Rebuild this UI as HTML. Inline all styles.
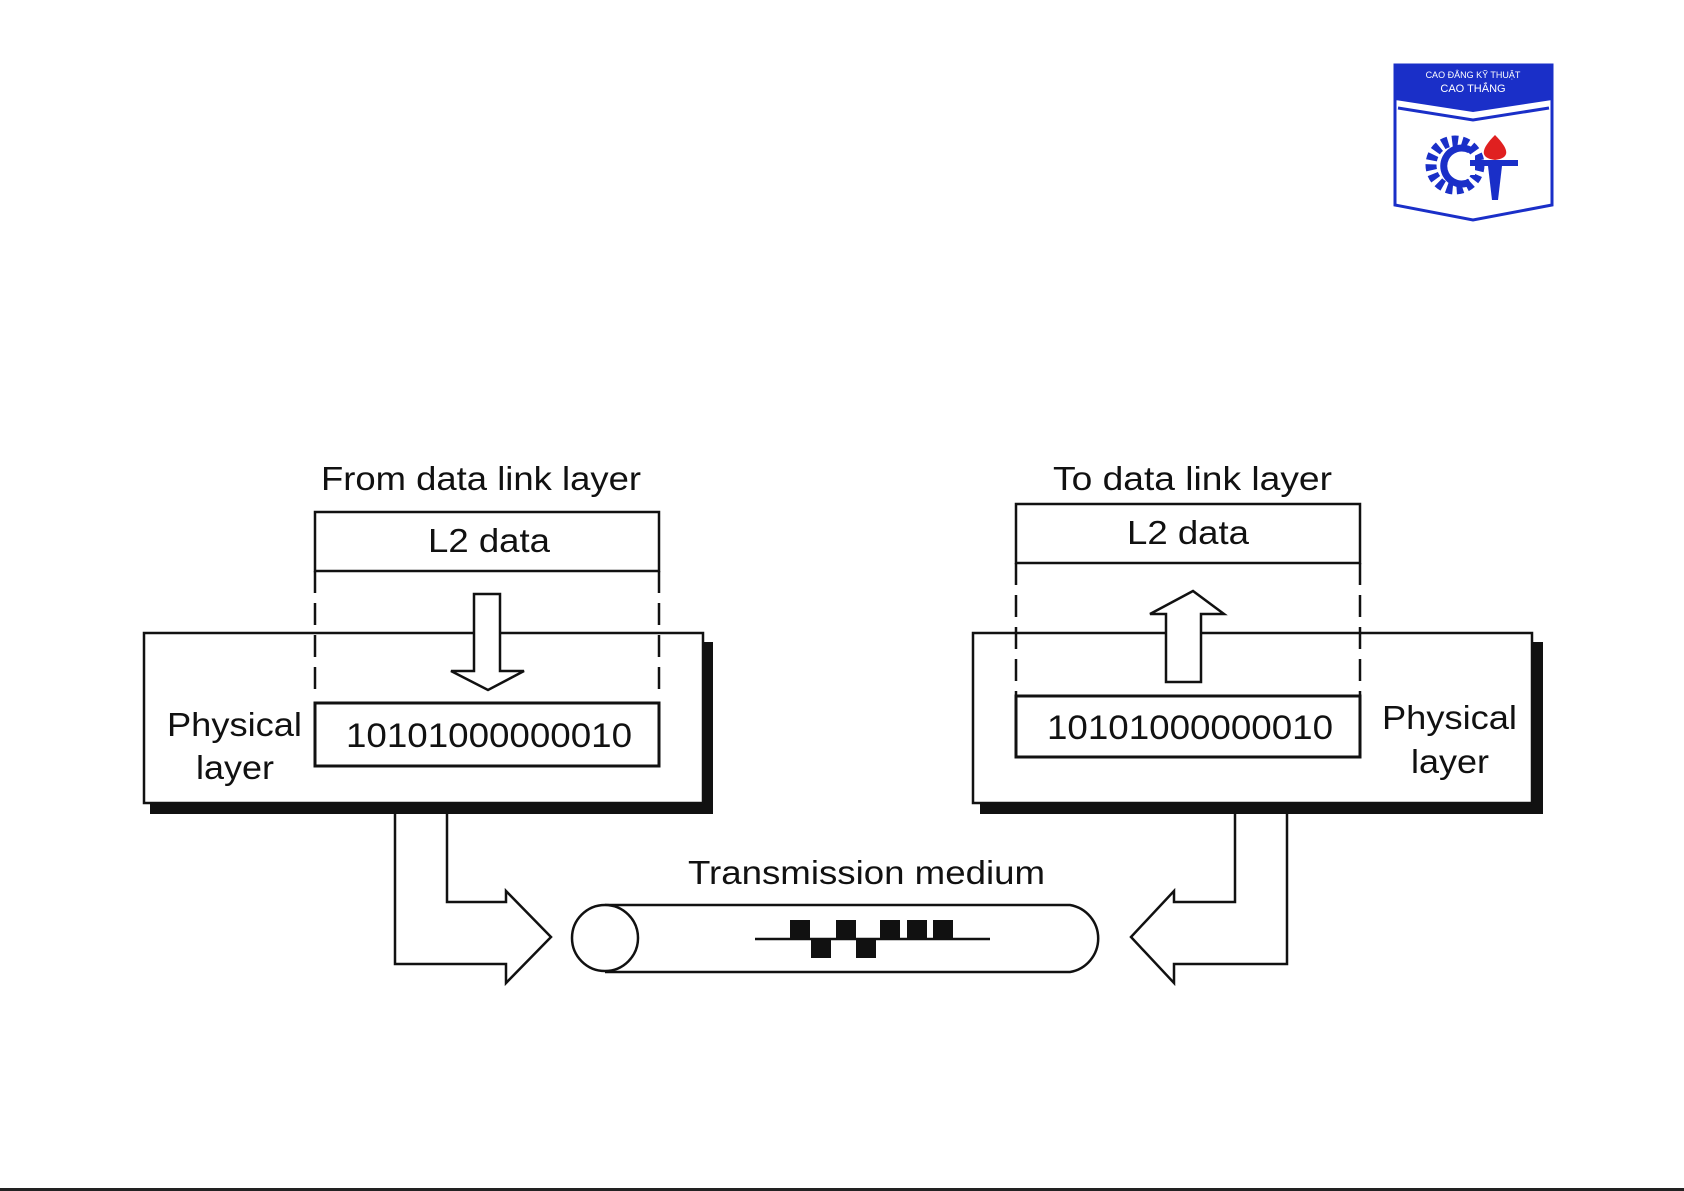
<!DOCTYPE html>
<html><head><meta charset="utf-8"><style>
html,body{margin:0;padding:0;background:#fff;}
svg{display:block;}
text{font-family:"Liberation Sans",sans-serif;fill:#111;}
</style></head><body>
<svg width="1684" height="1191" viewBox="0 0 1684 1191" xmlns="http://www.w3.org/2000/svg">
<rect width="1684" height="1191" fill="#fff"/>
<!-- Logo -->
<g>
<path d="M1395,65 H1552 V205 L1473,220 L1395,205 Z" fill="#fff" stroke="#1a2fc8" stroke-width="3"/>
<path d="M1395,65 H1552 V100 L1473,112 L1395,100 Z" fill="#1a2fc8"/>
<path d="M1398,108 L1473,120 L1549,108" fill="none" stroke="#1a2fc8" stroke-width="3"/>
<text x="1473" y="78" font-size="9" text-anchor="middle" style="fill:#fff">CAO ĐẲNG KỸ THUẬT</text>
<text x="1473" y="92" font-size="11" text-anchor="middle" style="fill:#fff">CAO THẮNG</text>
<circle cx="1455" cy="165" r="24" fill="none" stroke="#1a2fc8" stroke-width="11" stroke-dasharray="6 4"/>
<path d="M1470,150 A18,18 0 1 0 1470,182" fill="none" stroke="#1a2fc8" stroke-width="7"/>
<rect x="1470" y="155" width="5" height="20" fill="#fff"/>
<path d="M1495,135 C1480,150 1480,158 1495,160 C1510,158 1510,150 1495,135 Z" fill="#e02020"/>
<rect x="1470" y="160" width="48" height="6" fill="#1a2fc8"/>
<path d="M1488,166 H1502 L1498,200 H1492 Z" fill="#1a2fc8"/>
</g>

<!-- Left side -->
<text x="321" y="490" font-size="33" textLength="320" lengthAdjust="spacingAndGlyphs">From data link layer</text>
<rect x="315" y="512" width="344" height="59" fill="#fff" stroke="#111" stroke-width="2.5"/>
<text x="428" y="552" font-size="33" textLength="122" lengthAdjust="spacingAndGlyphs">L2 data</text>
<rect x="150" y="642" width="563" height="172" fill="#111"/>
<rect x="144" y="633" width="559" height="170" fill="#fff" stroke="#111" stroke-width="2.5"/>
<line x1="315" y1="571" x2="315" y2="690" stroke="#111" stroke-width="2.5" stroke-dasharray="22 10"/>
<line x1="659" y1="571" x2="659" y2="690" stroke="#111" stroke-width="2.5" stroke-dasharray="22 10"/>
<path d="M474,594 H500 V671 H524 L488,690 L451,671 H474 Z" fill="#fff" stroke="#111" stroke-width="2.5"/>
<rect x="315" y="703" width="344" height="63" fill="#fff" stroke="#111" stroke-width="3"/>
<text x="346" y="747" font-size="34" textLength="286" lengthAdjust="spacingAndGlyphs">10101000000010</text>
<text x="167" y="736" font-size="33" textLength="135" lengthAdjust="spacingAndGlyphs">Physical</text>
<text x="196" y="779" font-size="33" textLength="78" lengthAdjust="spacingAndGlyphs">layer</text>
<path d="M395,814 V964 H506 V983 L551,937 L506,891 V902 H447 V814" fill="#fff" stroke="#111" stroke-width="2.5"/>

<!-- Right side -->
<text x="1053" y="490" font-size="33" textLength="279" lengthAdjust="spacingAndGlyphs">To data link layer</text>
<rect x="1016" y="504" width="344" height="59" fill="#fff" stroke="#111" stroke-width="2.5"/>
<text x="1127" y="544" font-size="33" textLength="122" lengthAdjust="spacingAndGlyphs">L2 data</text>
<rect x="980" y="642" width="563" height="172" fill="#111"/>
<rect x="973" y="633" width="559" height="170" fill="#fff" stroke="#111" stroke-width="2.5"/>
<line x1="1016" y1="563" x2="1016" y2="696" stroke="#111" stroke-width="2.5" stroke-dasharray="22 10"/>
<line x1="1360" y1="563" x2="1360" y2="696" stroke="#111" stroke-width="2.5" stroke-dasharray="22 10"/>
<path d="M1166,682 V614 H1150 L1193,591 L1224,614 H1201 V682 Z" fill="#fff" stroke="#111" stroke-width="2.5"/>
<rect x="1016" y="696" width="344" height="61" fill="#fff" stroke="#111" stroke-width="3"/>
<text x="1047" y="739" font-size="34" textLength="286" lengthAdjust="spacingAndGlyphs">10101000000010</text>
<text x="1382" y="729" font-size="33" textLength="135" lengthAdjust="spacingAndGlyphs">Physical</text>
<text x="1411" y="773" font-size="33" textLength="78" lengthAdjust="spacingAndGlyphs">layer</text>
<path d="M1235,814 V902 H1174 V891 L1131,937 L1174,983 V964 H1287 V814" fill="#fff" stroke="#111" stroke-width="2.5"/>

<!-- Medium -->
<text x="688" y="884" font-size="33" textLength="357" lengthAdjust="spacingAndGlyphs">Transmission medium</text>
<path d="M605,905 H1070 A34,34 0 0 1 1070,972 H605" fill="#fff" stroke="#111" stroke-width="2.5"/>
<ellipse cx="605" cy="938" rx="33" ry="33" fill="#fff" stroke="#111" stroke-width="2.5"/>
<line x1="755" y1="939" x2="990" y2="939" stroke="#111" stroke-width="2.5"/>
<g fill="#111">
<rect x="790" y="920" width="20" height="19"/>
<rect x="836" y="920" width="20" height="19"/>
<rect x="880" y="920" width="20" height="19"/>
<rect x="907" y="920" width="20" height="19"/>
<rect x="933" y="920" width="20" height="19"/>
<rect x="811" y="939" width="20" height="19"/>
<rect x="856" y="939" width="20" height="19"/>
</g>
<rect x="0" y="1188" width="1684" height="3" fill="#222"/>
</svg>
</body></html>
